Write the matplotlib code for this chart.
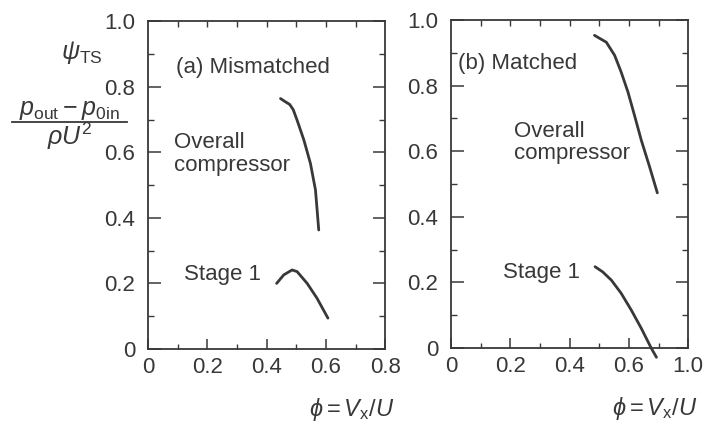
import matplotlib
matplotlib.use("Agg")
import matplotlib.pyplot as plt
from matplotlib.lines import Line2D
from matplotlib.ticker import MultipleLocator

left_overall_x = [0.447, 0.462, 0.478, 0.490, 0.503, 0.526, 0.548, 0.565, 0.576]
left_overall_y = [0.764, 0.755, 0.746, 0.730, 0.698, 0.637, 0.566, 0.485, 0.363]
left_stage1_x = [0.434, 0.458, 0.486, 0.503, 0.537, 0.570, 0.607]
left_stage1_y = [0.200, 0.226, 0.241, 0.236, 0.200, 0.155, 0.094]

right_overall_x = [0.484, 0.524, 0.552, 0.574, 0.597, 0.619, 0.642, 0.670, 0.696]
right_overall_y = [0.953, 0.932, 0.892, 0.841, 0.780, 0.709, 0.633, 0.552, 0.473]
right_stage1_x = [0.486, 0.512, 0.541, 0.574, 0.608, 0.642, 0.676, 0.693]
right_stage1_y = [0.248, 0.232, 0.207, 0.167, 0.116, 0.060, -0.001, -0.028]

y_ticks = [0, 0.2, 0.4, 0.6, 0.8, 1.0]
y_ticklabels = ["0", "0.2", "0.4", "0.6", "0.8", "1.0"]
x_ticks = [0, 0.2, 0.4, 0.6, 0.8]
left_xticklabels = ["0", "0.2", "0.4", "0.6", "0.8"]
right_xticklabels = ["0", "0.2", "0.4", "0.6", "1.0"]  # as printed in the original

plt.rcParams["font.family"] = ["Liberation Sans", "DejaVu Sans"]
plt.rcParams["mathtext.fontset"] = "custom"
plt.rcParams["mathtext.rm"] = "Liberation Sans"
plt.rcParams["mathtext.it"] = "Liberation Sans:italic"
plt.rcParams["mathtext.bf"] = "Liberation Sans:bold"

ink = "#383838"
fs = 16

fig = plt.figure(figsize=(7.08, 4.24), dpi=100)
ax1 = fig.add_axes([0.209, 0.177, 0.335, 0.773])
ax2 = fig.add_axes([0.637, 0.179, 0.335, 0.774])


def style_axes(ax, xlabels):
    ax.set_xlim(0, 0.8)
    ax.set_ylim(0, 1.0)
    ax.set_xticks(x_ticks)
    ax.set_xticklabels(xlabels)
    ax.set_yticks(y_ticks)
    ax.set_yticklabels(y_ticklabels)
    ax.xaxis.set_minor_locator(MultipleLocator(0.1))
    ax.yaxis.set_minor_locator(MultipleLocator(0.1))
    ax.tick_params(axis="y", which="major", direction="in", length=9, width=1.1,
                   right=True, labelsize=fs, colors=ink, pad=9)
    ax.tick_params(axis="y", which="minor", direction="in", length=4, width=1.0, right=True, colors=ink)
    ax.tick_params(axis="x", which="major", direction="in", length=7, width=1.1,
                   top=False, labelsize=fs, colors=ink, pad=6)
    ax.tick_params(axis="x", which="minor", direction="in", length=3.5, width=1.0, top=False, colors=ink)
    for s in ax.spines.values():
        s.set_color(ink)
        s.set_linewidth(1.3)
    top = ax.secondary_xaxis("top")
    top.set_xticks([0.1, 0.2, 0.3, 0.4, 0.5, 0.6, 0.7])
    top.tick_params(direction="in", length=4, width=1.0, labeltop=False, colors=ink)
    top.spines["top"].set_visible(False)
    ax.text(1.04, -0.185, r"$\phi = V_{\rm x}/U$", transform=ax.transAxes,
            ha="right", va="center", fontsize=17, color=ink)


style_axes(ax1, left_xticklabels)
style_axes(ax2, right_xticklabels)

ax1.plot(left_overall_x, left_overall_y, color=ink, lw=2.0, solid_capstyle="round")
ax1.plot(left_stage1_x, left_stage1_y, color=ink, lw=2.0, solid_capstyle="round")
ax2.plot(right_overall_x, right_overall_y, color=ink, lw=2.0, solid_capstyle="round")
ax2.plot(right_stage1_x, right_stage1_y, color=ink, lw=2.0, solid_capstyle="round", clip_on=False)

ax1.text(0.094, 0.86, "(a) Mismatched", fontsize=fs, color=ink, va="center")
ax1.text(0.087, 0.595, "Overall\ncompressor", fontsize=fs, color=ink, va="center", linespacing=1.1)
ax1.text(0.12, 0.226, "Stage 1", fontsize=fs, color=ink, va="center")

ax2.text(0.024, 0.866, "(b) Matched", fontsize=fs, color=ink, va="center")
ax2.text(0.214, 0.627, "Overall\ncompressor", fontsize=fs, color=ink, va="center", linespacing=1.1)
ax2.text(0.176, 0.23, "Stage 1", fontsize=fs, color=ink, va="center")

# y label: psi_TS and the fraction built from two texts and a rule
fig.text(82 / 708, 1 - 52 / 424, r"$\psi_{\rm TS}$", fontsize=18, color=ink, ha="center", va="center")
fig.text(69 / 708, 1 - 115 / 424, r"$p_{\rm out}-p_{\rm 0in}$", fontsize=18, color=ink,
         ha="center", va="baseline")
fig.add_artist(Line2D([12 / 708, 127 / 708], [1 - 122 / 424, 1 - 122 / 424], color=ink, lw=1.3))
fig.text(70 / 708, 1 - 145 / 424, r"$\rho U^2$", fontsize=18, color=ink, ha="center", va="baseline")

fig.savefig("out.png", dpi=100)
